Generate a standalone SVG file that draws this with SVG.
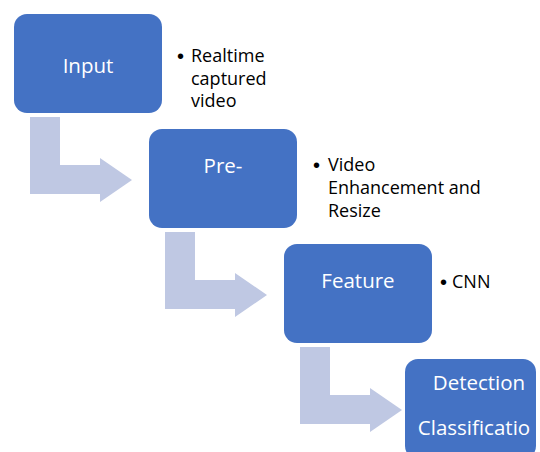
<svg xmlns="http://www.w3.org/2000/svg" width="540" height="452" viewBox="0 0 540 452">
<style>
.box{fill:#4472C4;}
.arrow{fill:#BFC8E3;}
.bt{font-family:"Open Sans","Liberation Sans",sans-serif;font-size:20.5px;fill:#FFFFFF;text-anchor:middle;}
.note{font-family:"Open Sans","Liberation Sans",sans-serif;font-size:18px;fill:#000000;}
.dot{font-family:"Liberation Sans",sans-serif;font-size:20px;fill:#000000;}
</style>
<rect width="540" height="452" fill="#FFFFFF"/>
<g id="connectors">
<path class="arrow" d="M30,117 H60 V165 H100 V158 L132,180 L100,202 V194 H30 Z"/>
<path class="arrow" d="M165,232 H195 V280 H235 V273 L267,295 L235,317 V309 H165 Z"/>
<path class="arrow" d="M300,347 H330 V395 H370 V388 L402,410 L370,432 V424 H300 Z"/>
</g>
<g id="input">
<rect class="box" x="14" y="14" width="148" height="99" rx="13"/>
<text class="bt" x="88" y="73">Input</text>
</g>
<g id="note-input">
<text class="dot" x="177" y="63">•</text>
<text class="note" x="191" y="62">Realtime</text>
<text class="note" x="191" y="85">captured</text>
<text class="note" x="191" y="107">video</text>
</g>
<g id="pre">
<rect class="box" x="149" y="129" width="148" height="99" rx="13"/>
<text class="bt" x="223" y="173">Pre-</text>
</g>
<g id="note-pre">
<text class="dot" x="313" y="172">•</text>
<text class="note" x="328" y="171">Video</text>
<text class="note" x="328" y="194">Enhancement and</text>
<text class="note" x="328" y="217">Resize</text>
</g>
<g id="feature">
<rect class="box" x="284" y="244" width="148" height="99" rx="13"/>
<text class="bt" x="358" y="288">Feature</text>
</g>
<g id="note-feature">
<text class="dot" x="440" y="289">•</text>
<text class="note" x="452" y="288">CNN</text>
</g>
<g id="detection">
<rect class="box" x="405" y="359" width="131" height="100" rx="13"/>
<text class="bt" x="479" y="390">Detection</text>
<text class="bt" x="474" y="435">Classificatio</text>
</g>
</svg>
